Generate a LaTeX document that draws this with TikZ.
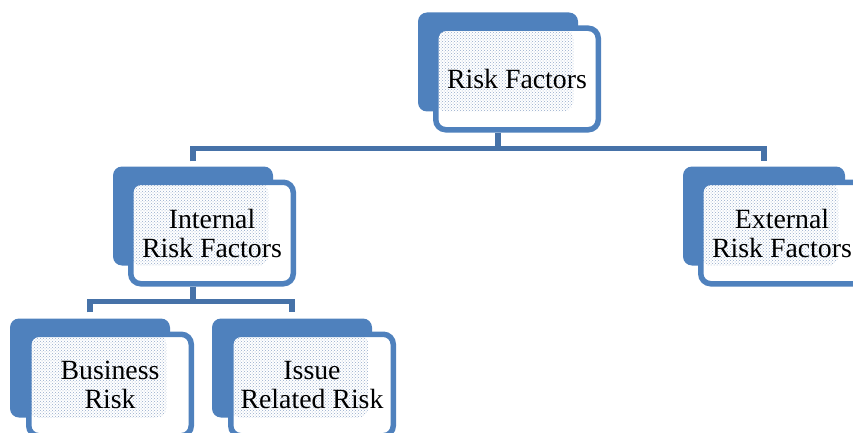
\documentclass[tikz,border=0pt]{standalone}
\usepackage{fontspec}
\setmainfont{Liberation Serif}
\usetikzlibrary{positioning}
\usetikzlibrary{patterns}
\definecolor{boxblue}{HTML}{4F81BD}
\definecolor{linkblue}{HTML}{4672A8}
\definecolor{dotblue}{HTML}{95ABCB}
\tikzset{
        boxnode/.style={align=center,inner sep=0pt},
        % Solid back boxes
        node_back/.style={boxnode, rectangle, rounded corners=9pt, fill=boxblue, minimum width=160pt, minimum height=99pt},
        % Outlined front boxes with the text
        node_front/.style={boxnode, rectangle, rounded corners=10pt, draw=boxblue, line width=5.5pt, fill=white, minimum width=162.5pt, minimum height=101.5pt, font=\fontsize{27.8}{29}\selectfont,
            path picture={\fill[pattern=crosshatch dots, pattern color=dotblue] (path picture bounding box.north west) rectangle ([shift={(-25pt,18pt)}]path picture bounding box.south east);}},
        % Connectors
        edge_fork/.style={draw=linkblue, line width=5.5pt}
}
\begin{document}
\begin{tikzpicture}[x=1pt, y=-1pt]
            \useasboundingbox (0,0) rectangle (853,433);
            \clip (0,0) rectangle (853,433);
            % back boxes
            \node[node_back] (risk) at (498,62) {};
            \node[node_back] (internal) at (193,216) {};
            \node[node_back, minimum width=162pt] (external) at (764,216) {};
            \node[node_back] (business) at (90,368) {};
            \node[node_back] (issue) at (292,368) {};
            % front boxes
            \node[node_front] (riskf) at ([shift={(19,17)}]risk) {Risk Factors};
            \node[node_front] (internalf) at ([shift={(19,17)}]internal) {Internal\\Risk Factors};
            \node[node_front] (externalf) at ([shift={(18,17)}]external) {External\\Risk Factors};
            \node[node_front] (businessf) at ([shift={(20,17)}]business) {Business\\Risk};
            \node[node_front] (issuef) at ([shift={(20,17)}]issue) {Issue\\Related Risk};
            % connectors
            \draw[edge_fork] (risk |- riskf.south) -- ++(0,16) coordinate (fork1);
            \draw[edge_fork] ([yshift=5pt]internal.north) |- (fork1) -| ([yshift=5pt]external.north);
            \draw[edge_fork] (internal |- internalf.south) -- ++(0,15) coordinate (fork2);
            \draw[edge_fork] ([yshift=6pt]business.north) |- (fork2) -| ([yshift=6pt]issue.north);
\end{tikzpicture}
\end{document}
